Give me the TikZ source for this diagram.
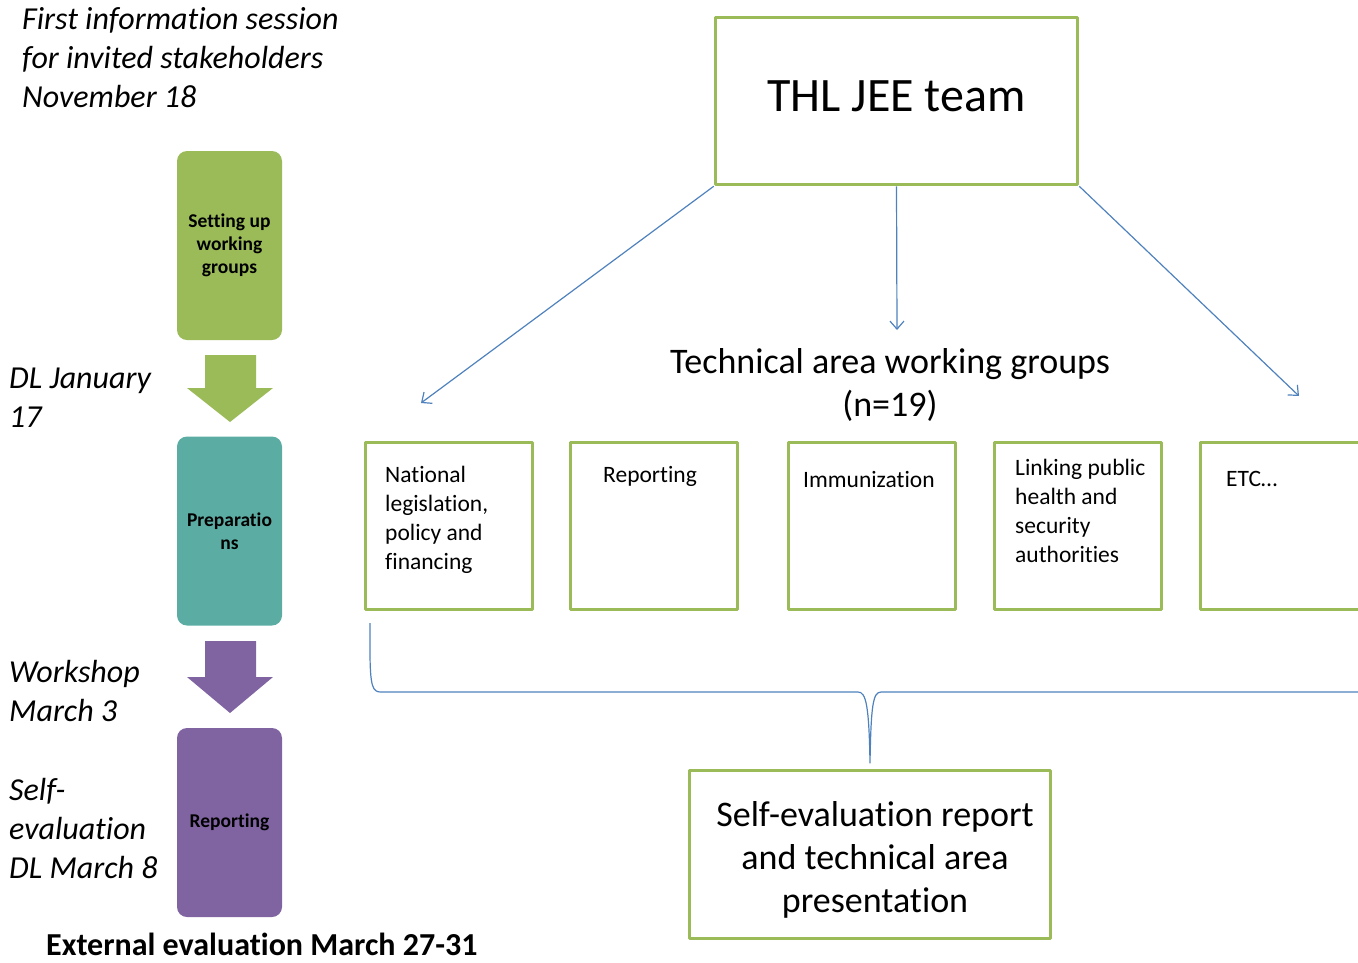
\documentclass[tikz,border=0pt]{standalone}
\usepackage{fontspec}
\setmainfont{Carlito}[Ligatures=NoCommon]
\usetikzlibrary{arrows.meta}
\definecolor{jeegreen}{HTML}{9BBB59}
\definecolor{jeeteal}{HTML}{5BADA4}
\definecolor{jeepurple}{HTML}{8064A2}
\definecolor{jeeblue}{HTML}{4F81BD}
\tikzset{
  stage/.style={rounded corners=10, minimum width=105, minimum height=189, align=center, inner sep=0, font=\bfseries\fontsize{19.5}{23}\selectfont},
  area/.style={draw=jeegreen, line width=3.5, minimum width=167, minimum height=167, inner sep=0},
  areatext/.style={anchor=north west, inner sep=0, align=left, font=\fontsize{23.5}{29}\selectfont},
  datenote/.style={anchor=west, inner sep=0, align=left, font=\itshape\fontsize{32}{39}\selectfont},
  flow/.style={draw=jeeblue, line width=1.2, -{Straight Barb[length=8,width=14]}},
}
\begin{document}
\begin{tikzpicture}[x=1pt, y=-1pt, line join=round]
                \useasboundingbox (0,0) rectangle (1358,962);
                \clip (0,0) rectangle (1358,962);
                \node[datenote] (info) at (22,58) {First information session\\for invited stakeholders\\November 18};
                \node[datenote] (dljan) at (9,398) {DL January\\17};
                \node[datenote] (workshop) at (9,691) {Workshop\\March 3};
                \node[datenote] (selfdl) at (9,828) {Self-\\evaluation\\DL March 8};
                \node[anchor=west, inner sep=0, font=\bfseries\fontsize{32}{38}\selectfont] (external) at (46,944) {External evaluation March 27-31};
                \node[stage, fill=jeegreen] (setup) at (229.5,245.5) {Setting up\\working\\groups};
                \node[stage, fill=jeeteal] (prep) at (229.5,531) {Preparatio\\ns};
                \node[stage, fill=jeepurple] (rep) at (229.5,822.5) {Reporting};
                \fill[jeegreen] (205,355) -- (256,355) -- (256,388) -- (273,388) -- (230,422) -- (187,388) -- (205,388) -- cycle;
                \fill[jeepurple] (205,641) -- (256,641) -- (256,677) -- (273,677) -- (230,713) -- (187,677) -- (205,677) -- cycle;
                \node[area, minimum width=362, minimum height=167, text depth=10, font=\fontsize{48}{58}\selectfont] (thl) at (896.5,101) {THL JEE team};
                \node[align=center, inner sep=0, font=\fontsize{36}{43}\selectfont] (groups) at (890,385) {Technical area working groups\\(n=19)};
                \node[area] (natl) at (449,526) {};
                \node[area] (report) at (654,526) {};
                \node[area] (immun) at (872,526) {};
                \node[area] (linking) at (1078,526) {};
                \node[area] (etc) at (1284,526) {};
                \node[areatext] (natltext) at (385,466) {National\\legislation,\\policy and\\financing};
                \node[areatext] (reporttext) at (603,466) {Reporting};
                \node[areatext] (immuntext) at (803,471) {Immunization};
                \node[areatext] (linkingtext) at (1015,459) {Linking public\\health and\\security\\authorities};
                \node[areatext] (etctext) at (1226,471) {ETC…};
                \coordinate (leftend) at (421,403);
                \coordinate (midend) at (897,330);
                \coordinate (rightend) at (1299,396);
                \draw[flow] (thl.south west) -- (leftend);
                \draw[flow] (thl.south) -- (midend);
                \draw[flow] (thl.south east) -- (rightend);
                \coordinate (bracetip) at (870,763);
                \draw[jeeblue, line width=1.2]
                (370,623) -- (370,650) .. controls (370,688) and (373,692) .. (381,692) -- (858,692)
                .. controls (866,692) and (869,705) .. (bracetip)
                .. controls (871,705) and (873,692) .. (881,692) -- (1370,692)
                ;
                \node[area, minimum width=361, minimum height=168] (selfeval) at (870,854.5) {};
                \node[align=center, inner sep=0, font=\fontsize{36}{43}\selectfont] (selfevaltext) at (875,860) {Self-evaluation report\\and technical area\\presentation};
            \end{tikzpicture}
\end{document}
